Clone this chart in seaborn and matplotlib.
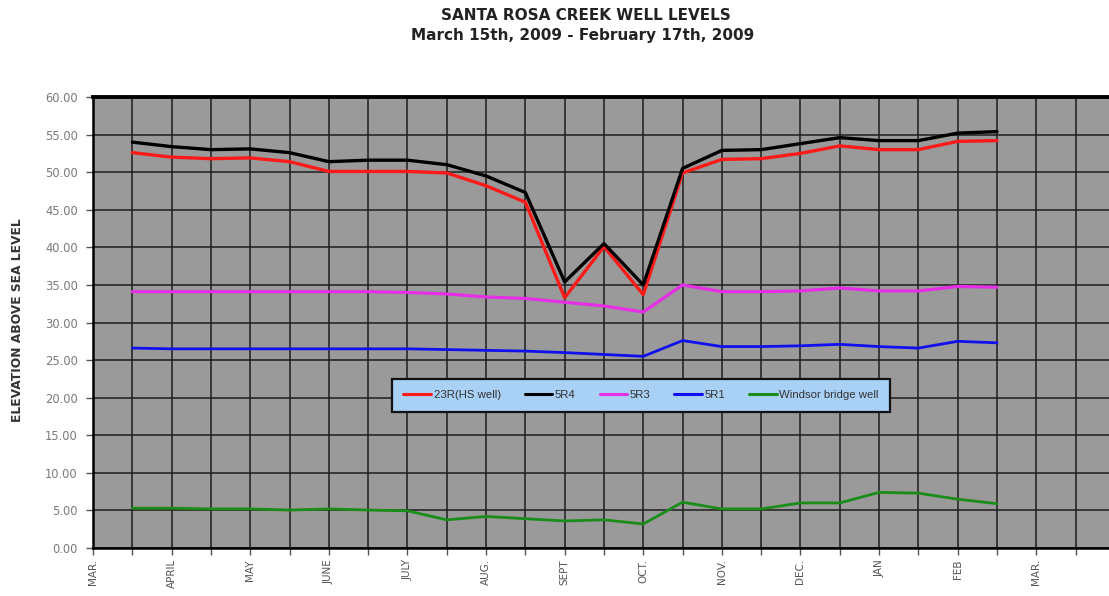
import numpy as np
import pandas as pd
import matplotlib
matplotlib.use("Agg")
import matplotlib.pyplot as plt
import seaborn as sns

# Sampling dates (first-of-month and mid-month readings)
sample_dates = [
    "2009-03-15", "2009-04-01", "2009-04-15", "2009-05-01", "2009-05-15",
    "2009-06-01", "2009-06-15", "2009-07-01", "2009-07-15", "2009-08-01",
    "2009-08-15", "2009-09-01", "2009-09-15", "2009-10-01", "2009-10-15",
    "2009-11-01", "2009-11-15", "2009-12-01", "2009-12-15", "2010-01-01",
    "2010-01-15", "2010-02-01", "2010-02-15",
]

# Well elevations above sea level (ft)
well_23r = [52.6, 52.0, 51.8, 51.9, 51.4, 50.1, 50.1, 50.1, 49.9, 48.2, 46.0, 33.3,
            40.1, 33.7, 49.9, 51.7, 51.8, 52.5, 53.5, 53.0, 53.0, 54.1, 54.2]
well_5r4 = [54.0, 53.4, 53.0, 53.1, 52.6, 51.4, 51.6, 51.6, 51.0, 49.5, 47.3, 35.4,
            40.5, 35.0, 50.5, 52.9, 53.0, 53.8, 54.6, 54.2, 54.2, 55.2, 55.4]
well_5r3 = [34.1, 34.1, 34.1, 34.1, 34.1, 34.1, 34.1, 34.0, 33.8, 33.4, 33.2, 32.7,
            32.2, 31.4, 35.0, 34.1, 34.1, 34.2, 34.6, 34.2, 34.2, 34.8, 34.7]
well_5r1 = [26.6, 26.5, 26.5, 26.5, 26.5, 26.5, 26.5, 26.5, 26.4, 26.3, 26.2, 26.0,
            25.75, 25.5, 27.6, 26.8, 26.8, 26.9, 27.1, 26.8, 26.6, 27.5, 27.3]
windsor = [5.3, 5.3, 5.2, 5.2, 5.05, 5.2, 5.05, 4.95, 3.75, 4.2, 3.9, 3.6,
           3.75, 3.2, 6.1, 5.2, 5.2, 6.0, 6.0, 7.4, 7.3, 6.5, 5.9]

series_names = ["23R(HS well)", "5R4", "5R3", "5R1", "Windsor bridge well"]
series_values = [well_23r, well_5r4, well_5r3, well_5r1, windsor]
series_colors = ["#ff1a1a", "#000000", "#e62ee6", "#1010ee", "#1a8c1a"]
series_widths = [2.4, 2.4, 2.3, 2.0, 2.0]

month_labels = ["MAR.", "APRIL", "MAY", "JUNE", "JULY", "AUG.", "SEPT",
                "OCT.", "NOV.", "DEC.", "JAN", "FEB", "MAR."]

# Position each reading on a half-month grid starting at March 1st
dates = pd.to_datetime(sample_dates)
slots = ((dates.month - 3) % 12) * 2 + (dates.day >= 15).astype(int)

frames = []
for name, vals in zip(series_names, series_values):
    frames.append(pd.DataFrame({"slot": slots, "elevation": vals, "well": name}))
df = pd.concat(frames, ignore_index=True)

sns.set_style("ticks")
plt.rcParams["font.family"] = ["DejaVu Sans"]

fig = plt.figure(figsize=(11.09, 5.96), dpi=100)
ax = fig.add_axes([0.0839, 0.0805, 0.9161, 0.7567])
ax.set_facecolor("#9a9a9a")

palette = dict(zip(series_names, series_colors))
sns.lineplot(data=df, x="slot", y="elevation", hue="well", hue_order=series_names,
             palette=palette, ax=ax, legend=False, sort=False)
for line, lw in zip(ax.get_lines(), series_widths):
    line.set_linewidth(lw)
    line.set_solid_joinstyle("round")
    line.set_solid_capstyle("round")

ax.set_xlim(0, 25.85)
ax.set_ylim(0, 60)
ax.set_xticks(np.arange(0, 26, 1))
ax.set_xticklabels([month_labels[i // 2] if i % 2 == 0 and i // 2 < len(month_labels) else ""
                    for i in range(26)], rotation=90, fontsize=7.5, color="#555555")
ax.set_yticks(np.arange(0, 61, 5))
ax.set_yticklabels([f"{v:.2f}" for v in np.arange(0, 61, 5)], fontsize=8.3,
                   color="#7a7a7a")
ax.tick_params(axis="both", length=5, width=1, color="#555555")
ax.tick_params(axis="x", pad=3)
ax.tick_params(axis="y", pad=6)

ax.grid(True, color="#1e1e1e", linewidth=1.1)
ax.set_axisbelow(True)

ax.spines["top"].set_linewidth(2.8)
for side in ["left", "bottom"]:
    ax.spines[side].set_linewidth(1.8)
for side in ["top", "left", "bottom"]:
    ax.spines[side].set_color("#000000")
ax.spines["right"].set_visible(False)

ax.set_xlabel("")
ax.set_ylabel("ELEVATION ABOVE SEA LEVEL", fontsize=8.8, fontweight="bold",
              color="#333333")
ax.yaxis.set_label_coords(-0.068, 0.505)

handles = [plt.Line2D([], [], color=c, lw=2.2) for c in series_colors]
leg = ax.legend(handles, series_names, loc="center", bbox_to_anchor=(0.5395, 0.339),
                ncol=5, frameon=True, fancybox=False,
                prop={"family": "Liberation Sans", "size": 8.2},
                handlelength=2.4, handletextpad=0.25, columnspacing=2.1,
                borderpad=1.0)
frame = leg.get_frame()
frame.set_facecolor("#a9d0f5")
frame.set_edgecolor("#111111")
frame.set_linewidth(1.6)
frame.set_alpha(1)
for t in leg.get_texts():
    t.set_color("#333333")

fig.text(0.528, 0.974, "SANTA ROSA CREEK WELL LEVELS", ha="center", va="center",
         fontsize=11, fontweight="bold", color="#222222")
fig.text(0.525, 0.941, "March 15th, 2009 - February 17th, 2009", ha="center",
         va="center", fontsize=11, fontweight="bold", color="#222222")

fig.savefig("out.png", dpi=100, facecolor="white")
